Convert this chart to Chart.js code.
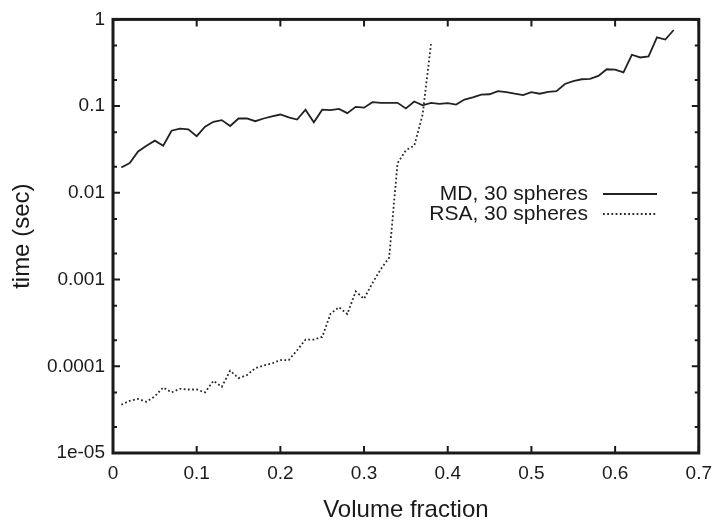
<!DOCTYPE html>
<html>
<head>
<meta charset="utf-8">
<script src="https://cdn.jsdelivr.net/npm/chart.js@4/dist/chart.umd.min.js"></script>
<style>
	html, body { margin: 0; padding: 0; background: #fff; }
	#wrap { width: 721px; height: 526px; }
</style>
</head>
<body>
<div id="wrap"><canvas id="timing-chart" width="721" height="526"></canvas></div>
<script>
	// Data
	var mdFraction = [0.01, 0.02, 0.03, 0.04, 0.05, 0.06, 0.07, 0.08, 0.09, 0.10,
		0.11, 0.12, 0.13, 0.14, 0.15, 0.16, 0.17, 0.18, 0.19, 0.20,
		0.21, 0.22, 0.23, 0.24, 0.25, 0.26, 0.27, 0.28, 0.29, 0.30,
		0.31, 0.32, 0.33, 0.34, 0.35, 0.36, 0.37, 0.38, 0.39, 0.40,
		0.41, 0.42, 0.43, 0.44, 0.45, 0.46, 0.47, 0.48, 0.49, 0.50,
		0.51, 0.52, 0.53, 0.54, 0.55, 0.56, 0.57, 0.58, 0.59, 0.60,
		0.61, 0.62, 0.63, 0.64, 0.65, 0.66, 0.67];
	var mdTime = [0.0196, 0.022, 0.030, 0.035, 0.040, 0.035, 0.052, 0.055, 0.054, 0.045,
		0.058, 0.066, 0.069, 0.059, 0.072, 0.072, 0.067, 0.072, 0.076, 0.080,
		0.074, 0.070, 0.091, 0.065, 0.091, 0.090, 0.093, 0.083, 0.098, 0.096,
		0.111, 0.109, 0.109, 0.109, 0.094, 0.113, 0.102, 0.109, 0.106, 0.108,
		0.104, 0.119, 0.126, 0.136, 0.137, 0.149, 0.145, 0.139, 0.134, 0.145,
		0.139, 0.146, 0.149, 0.180, 0.194, 0.204, 0.206, 0.223, 0.266, 0.264,
		0.245, 0.391, 0.364, 0.374, 0.622, 0.585, 0.755];

	var rsaFraction = [0.01, 0.02, 0.03, 0.04, 0.05, 0.06, 0.07, 0.08, 0.09, 0.10,
		0.11, 0.12, 0.13, 0.14, 0.15, 0.16, 0.17, 0.18, 0.19, 0.20,
		0.21, 0.22, 0.23, 0.24, 0.25, 0.26, 0.27, 0.28, 0.29, 0.30,
		0.31, 0.32, 0.33, 0.34, 0.35, 0.36, 0.37, 0.38];
	var rsaTime = [3.6e-5, 4.0e-5, 4.2e-5, 3.9e-5, 4.5e-5, 5.7e-5, 5.0e-5, 5.5e-5, 5.4e-5, 5.4e-5,
		5.0e-5, 6.8e-5, 5.8e-5, 8.9e-5, 7.3e-5, 7.9e-5, 9.5e-5, 1.02e-4, 1.08e-4, 1.18e-4,
		1.18e-4, 1.53e-4, 2.03e-4, 2.03e-4, 2.18e-4, 4.04e-4, 4.8e-4, 4.0e-4, 7.3e-4, 6.0e-4,
		9.1e-4, 1.32e-3, 1.79e-3, 0.022, 0.031, 0.035, 0.08, 0.52];

	var xTicks = [0, 0.1, 0.2, 0.3, 0.4, 0.5, 0.6, 0.7];
	var yMajor = [1e-5, 1e-4, 1e-3, 1e-2, 1e-1, 1];
	var yLabels = ['1e-05', '0.0001', '0.001', '0.01', '0.1', '1'];
	var yMinor = [2e-5, 5e-5, 2e-4, 5e-4, 2e-3, 5e-3, 2e-2, 5e-2, 0.2, 0.5];
	var seriesNames = ['MD, 30 spheres', 'RSA, 30 spheres'];

	var FONT = 'Liberation Sans, Arial, sans-serif';
	var INK = '#1a1a1a';

	function points(xs, ys) {
		return xs.map(function (x, i) { return { x: x, y: ys[i] }; });
	}

	// Frame, inward ticks and the in-plot legend
	var framePlugin = {
		id: 'frame',
		afterDatasetsDraw: function (chart) {
			var ctx = chart.ctx;
			var a = chart.chartArea;
			var xs = chart.scales.x, ys = chart.scales.y;
			ctx.save();
			ctx.strokeStyle = INK;
			ctx.lineWidth = 2;
			ctx.beginPath();
			xTicks.forEach(function (v) {
				var px = xs.getPixelForValue(v);
				ctx.moveTo(px, a.bottom); ctx.lineTo(px, a.bottom - 7);
				ctx.moveTo(px, a.top); ctx.lineTo(px, a.top + 7);
			});
			yMajor.forEach(function (v) {
				var py = ys.getPixelForValue(v);
				ctx.moveTo(a.left, py); ctx.lineTo(a.left + 7, py);
				ctx.moveTo(a.right, py); ctx.lineTo(a.right - 7, py);
			});
			yMinor.forEach(function (v) {
				var py = ys.getPixelForValue(v);
				ctx.moveTo(a.left, py); ctx.lineTo(a.left + 4, py);
				ctx.moveTo(a.right, py); ctx.lineTo(a.right - 4, py);
			});
			ctx.stroke();

			ctx.lineWidth = 3;
			ctx.strokeRect(a.left, a.top, a.right - a.left, a.bottom - a.top);

			// legend
			ctx.font = '21px ' + FONT;
			ctx.fillStyle = INK;
			ctx.textAlign = 'right';
			ctx.textBaseline = 'middle';
			chart.data.datasets.forEach(function (ds, i) {
				var y = 194 + i * 20;
				ctx.fillText(ds.label, 588, y);
				ctx.beginPath();
				ctx.lineWidth = ds.borderWidth;
				ctx.strokeStyle = ds.borderColor;
				ctx.setLineDash(ds.borderDash || []);
				ctx.moveTo(603, y); ctx.lineTo(657, y);
				ctx.stroke();
				ctx.setLineDash([]);
			});
			ctx.restore();
		}
	};

	var ctx = document.getElementById('timing-chart').getContext('2d');
	var timingChart = new Chart(ctx, {
		type: 'line',
		data: {
			datasets: [
				{
					label: seriesNames[0],
					data: points(mdFraction, mdTime),
					borderColor: '#222222',
					borderWidth: 1.8,
					pointRadius: 0,
					tension: 0,
				},
				{
					label: seriesNames[1],
					data: points(rsaFraction, rsaTime),
					borderColor: '#2a2a2a',
					borderWidth: 1.8,
					borderDash: [1.8, 2.4],
					pointRadius: 0,
					tension: 0,
				},
			],
		},
		options: {
			responsive: false,
			animation: false,
			events: [],
			layout: { padding: { top: 15, right: 18, bottom: 0, left: 0 } },
			plugins: { legend: { display: false }, tooltip: { enabled: false } },
			scales: {
				x: {
					type: 'linear',
					min: 0,
					max: 0.7,
					afterFit: function (s) { s.height = 73; },
					afterBuildTicks: function (s) {
						s.ticks = xTicks.map(function (v) { return { value: v }; });
					},
					ticks: {
						color: INK,
						padding: 9,
						maxRotation: 0,
						font: { family: FONT, size: 19 },
						callback: function (v) { return String(Math.round(v * 10) / 10); },
					},
					grid: { display: false, drawTicks: false },
					border: { display: false },
					title: {
						display: true,
						text: 'Volume fraction',
						color: INK,
						font: { family: FONT, size: 24 },
						padding: { top: 0, bottom: 1 },
					},
				},
				y: {
					type: 'logarithmic',
					min: 1e-5,
					max: 1,
					afterFit: function (s) { s.width = 113; },
					afterBuildTicks: function (s) {
						s.ticks = yMajor.map(function (v) { return { value: v }; });
					},
					ticks: {
						color: INK,
						padding: 8,
						font: { family: FONT, size: 19 },
						callback: function (v) {
							var i = yMajor.indexOf(v);
							return i >= 0 ? yLabels[i] : '';
						},
					},
					grid: { display: false, drawTicks: false },
					border: { display: false },
					title: {
						display: true,
						text: 'time (sec)',
						color: INK,
						font: { family: FONT, size: 24 },
						padding: { top: 8, bottom: 0 },
					},
				},
			},
		},
		plugins: [framePlugin],
	});
</script>
</body>
</html>
